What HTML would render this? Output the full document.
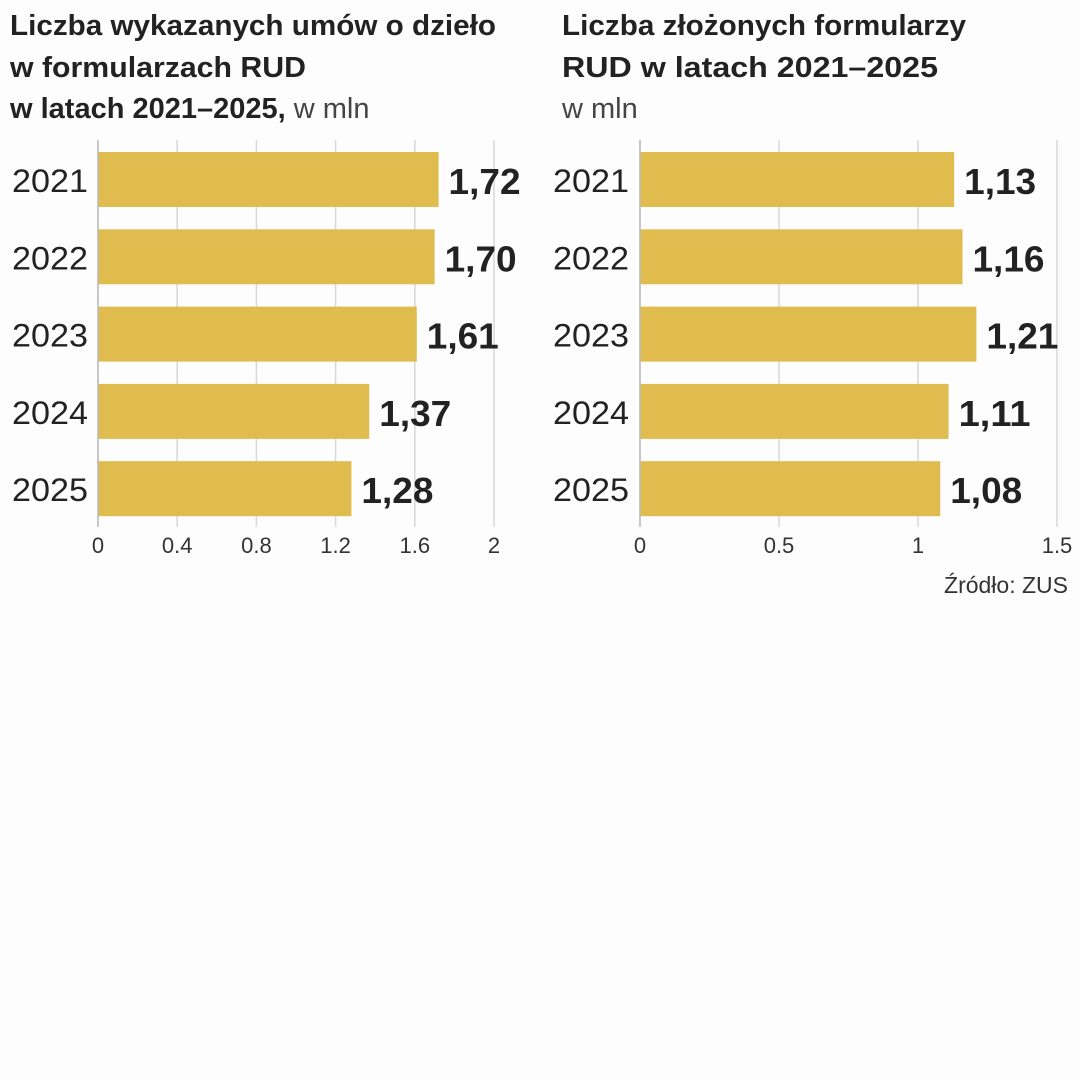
<!DOCTYPE html>
<html><head><meta charset="utf-8">
<style>
html,body{margin:0;padding:0;background:#fdfdfd;}
svg{display:block;}
text{font-family:"Liberation Sans",sans-serif;}
.t{font-weight:bold;font-size:29px;fill:#222;}
.tl{font-weight:normal;font-size:29px;fill:#444;}
.yr{font-size:32px;fill:#222;}
.val{font-weight:bold;font-size:36px;fill:#222;}
.tick{font-size:22px;fill:#333;}
</style></head>
<body>
<svg id="chart" width="1080" height="1080">
<rect width="1080" height="1080" fill="#fdfdfd"/>
<text class="t" x="10" y="35" textLength="486" lengthAdjust="spacingAndGlyphs">Liczba wykazanych umów o dzieło</text>
<text class="t" x="10" y="77" textLength="296" lengthAdjust="spacingAndGlyphs">w formularzach RUD</text>
<text x="10" y="118"><tspan class="t">w latach 2021–2025,</tspan><tspan class="tl"> w mln</tspan></text>
<text class="t" x="562" y="35" textLength="404" lengthAdjust="spacingAndGlyphs">Liczba złożonych formularzy</text>
<text class="t" x="562" y="77" textLength="376" lengthAdjust="spacingAndGlyphs">RUD w latach 2021–2025</text>
<text class="tl" x="562" y="118">w mln</text>
<g id="left"></g><g id="right"></g>
<text class="tick" x="1068" y="593" text-anchor="end" style="font-size:23px">Źródło: ZUS</text>
</svg>
<script>
const years = ["2021","2022","2023","2024","2025"];
const leftValues = [1.72,1.70,1.61,1.37,1.28];
const rightValues = [1.13,1.16,1.21,1.11,1.08];
const leftTicks = [0,0.4,0.8,1.2,1.6,2];
const rightTicks = [0,0.5,1,1.5];
const leftTickLabels = ["0","0.4","0.8","1.2","1.6","2"];
const rightTickLabels = ["0","0.5","1","1.5"];
const NS="http://www.w3.org/2000/svg";
function mk(tag,attrs,parent){const e=document.createElementNS(NS,tag);for(const k in attrs)e.setAttribute(k,attrs[k]);parent.appendChild(e);return e;}
function draw(g,vals,ticks,tlabels,x0,x1,max,yrX,prefix){
  const xs=v=>x0+(v/max)*(x1-x0);
  const ys=i=>152+i*77.3;
  ticks.forEach((t,i)=>{
    const l=mk('line',{x1:xs(t),x2:xs(t),y1:140,y2:527,stroke:'#d8d8d8','stroke-width':1.5},g);
    
    
    const tx=mk('text',{x:xs(t),y:553,'text-anchor':'middle',class:'tick'},g);
    tx.textContent=tlabels[i];
    
    
  });
  vals.forEach((v,i)=>{
    const r=mk('rect',{x:x0,y:ys(i),width:xs(v)-x0,height:55,fill:'#e0bc4e'},g);
    
    
    const y=mk('text',{x:yrX,y:ys(i)+40,class:'yr',textLength:76,lengthAdjust:'spacingAndGlyphs'},g);
    y.textContent=years[i];
    
    
    const vt=mk('text',{x:xs(v)+10,y:ys(i)+42,class:'val',textLength:72,lengthAdjust:'spacingAndGlyphs'},g);
    vt.textContent=v.toFixed(2).replace('.',',');
    
    
  });
  mk('line',{x1:x0,x2:x0,y1:140,y2:527,stroke:'#bbb','stroke-width':1.5},g);
}
draw(document.getElementById('left'),leftValues,leftTicks,leftTickLabels,98,494,2,12,'left');
draw(document.getElementById('right'),rightValues,rightTicks,rightTickLabels,640,1057,1.5,553,'right');
</script>
</body></html>
